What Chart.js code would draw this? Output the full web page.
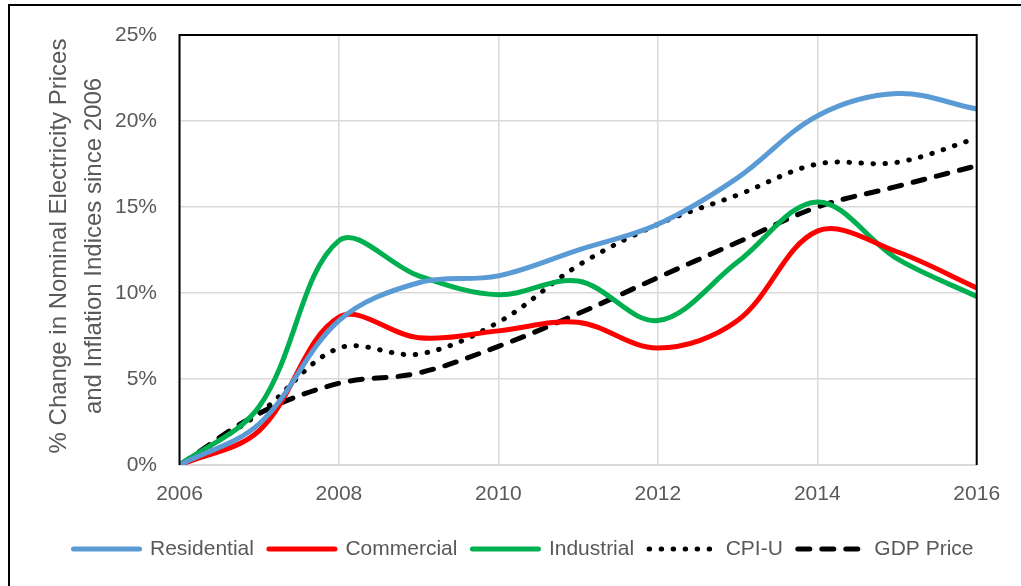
<!DOCTYPE html>
<html>
<head>
<meta charset="utf-8">
<title>Electricity prices vs inflation</title>
<script src="https://cdn.jsdelivr.net/npm/chart.js@4.4.1/dist/chart.umd.min.js"></script>
<style>
  html, body { margin: 0; padding: 0; background: #fff; overflow: hidden; }
  #marco { position: absolute; left: 8px; top: 4px; width: 1100px; height: 700px; border: 2px solid #000; }
  #caja { position: absolute; left: 0; top: 0; width: 1021px; height: 586px; }
</style>
</head>
<body>
<div id="marco"></div>
<div id="caja"><canvas id="graficoPrecios" width="1021" height="586"></canvas></div>
<script>
// datos (% de cambio desde 2006)
const years = [2006, 2007, 2008, 2009, 2010, 2011, 2012, 2013, 2014, 2015, 2016];
const residential = [0, 2.4, 8.4, 10.6, 11.0, 12.5, 14.0, 16.7, 20.3, 21.6, 20.7];
const commercial  = [0, 2.0, 8.6, 7.4, 7.8, 8.3, 6.8, 8.4, 13.6, 12.4, 10.3];
const industrial  = [0, 3.4, 13.05, 11.0, 9.9, 10.7, 8.4, 11.8, 15.3, 12.0, 9.8];
const cpiU        = [0, 3.0, 6.8, 6.45, 8.3, 11.6, 14.0, 15.7, 17.5, 17.6, 19.0];
const gdpPrice    = [0, 3.0, 4.75, 5.35, 6.9, 8.8, 10.9, 12.95, 15.0, 16.2, 17.4];

const xTicks = [2006, 2008, 2010, 2012, 2014, 2016];
const yTicks = [0, 5, 10, 15, 20, 25];
const yTitle = ['% Change in Nominal Electricity Prices', 'and Inflation Indices since 2006'];

const FONT = "'Liberation Sans', Arial, sans-serif";
const GRIS = '#595959';
const REJILLA = '#d9d9d9';

Chart.defaults.font.family = FONT;
Chart.defaults.color = GRIS;

const serie = (label, values, color, extra) => Object.assign({
  label,
  data: years.map((x, i) => ({ x, y: values[i] })),
  borderColor: color,
  backgroundColor: color,
  borderWidth: 5,
  pointRadius: 0,
  tension: 0.35,
  fill: false
}, extra || {});

// marco negro del area de trazado (arriba, izquierda, derecha)
const marcoPlot = {
  id: 'marcoPlot',
  afterDatasetsDraw(chart) {
    const { ctx, chartArea: a } = chart;
    ctx.save();
    ctx.strokeStyle = '#000';
    ctx.lineWidth = 2;
    ctx.beginPath();
    ctx.moveTo(a.left, a.bottom);
    ctx.lineTo(a.left, a.top);
    ctx.lineTo(a.right, a.top);
    ctx.lineTo(a.right, a.bottom);
    ctx.stroke();
    ctx.restore();
  }
};

// titulo del eje Y en dos lineas
const tituloY = {
  id: 'tituloY',
  afterDraw(chart) {
    const ctx = chart.ctx;
    ctx.save();
    ctx.translate(59, 246);
    ctx.rotate(-Math.PI / 2);
    ctx.font = "24px " + FONT;
    ctx.fillStyle = GRIS;
    ctx.textAlign = 'center';
    ctx.textBaseline = 'middle';
    yTitle.forEach((t, i) => ctx.fillText(t, 0, i * 35));
    ctx.restore();
  }
};

const canvas = document.getElementById('graficoPrecios');

new Chart(canvas, {
  type: 'line',
  data: {
    datasets: [
      serie('Residential', residential, '#5B9BD5'),
      serie('Commercial', commercial, '#FF0000'),
      serie('Industrial', industrial, '#00B050'),
      serie('CPI-U', cpiU, '#000000', { borderDash: [0.5, 11.5], borderCapStyle: 'round' }),
      serie('GDP Price', gdpPrice, '#000000', { borderDash: [12, 12], borderCapStyle: 'round' })
    ]
  },
  options: {
    responsive: false,
    animation: false,
    devicePixelRatio: 1,
    layout: { padding: { left: 26, right: 0, top: 34, bottom: 16.5 } },
    scales: {
      x: {
        type: 'linear',
        min: 2006,
        max: 2016,
        afterBuildTicks: s => { s.ticks = xTicks.map(v => ({ value: v })); },
        afterFit: s => { s.paddingLeft = 0; s.paddingRight = 44.3; s.height = 58.5; },
        grid: { color: REJILLA, lineWidth: 1.5, drawTicks: false },
        border: { color: REJILLA, width: 2 },
        ticks: {
          padding: 17,
          maxRotation: 0,
          font: { size: 21 },
          callback: v => String(v)
        }
      },
      y: {
        min: 0,
        max: 25,
        afterBuildTicks: s => { s.ticks = yTicks.map(v => ({ value: v })); },
        afterFit: s => { s.width = 153.5; },
        grid: { color: REJILLA, lineWidth: 1.5, drawTicks: false },
        border: { display: false },
        ticks: {
          padding: 22.5,
          font: { size: 21 },
          callback: v => v + '%'
        }
      }
    },
    plugins: {
      tooltip: { enabled: false },
      legend: {
        position: 'bottom',
        labels: {
          usePointStyle: true,
          pointStyleWidth: 66,
          padding: 15,
          color: GRIS,
          font: { size: 21 },
          generateLabels: chart => chart.data.datasets.map((ds, i) => ({
            text: ds.label,
            fillStyle: ds.borderColor,
            strokeStyle: ds.borderColor,
            lineWidth: 5,
            lineDash: ds.borderDash || [],
            lineCap: 'round',
            pointStyle: 'line',
            fontColor: GRIS,
            hidden: false,
            datasetIndex: i
          }))
        }
      }
    }
  },
  plugins: [marcoPlot, tituloY]
});
</script>
</body>
</html>
